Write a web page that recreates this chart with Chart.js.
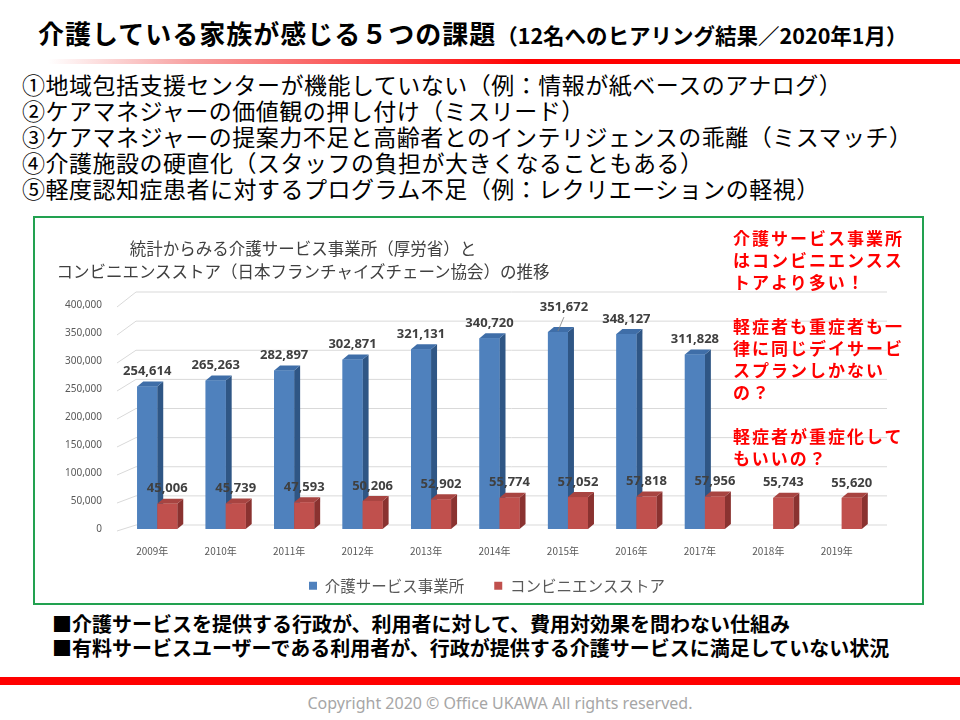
<!DOCTYPE html>
<html lang="ja">
<head>
<meta charset="utf-8">
<script src="https://cdn.jsdelivr.net/npm/chart.js@4"></script>
<style>
  body { margin: 0; background: #fff; }
  #slide { position: relative; width: 960px; height: 720px; overflow: hidden; font-family: 'Noto Sans CJK JP', 'Noto Sans', sans-serif; }
  .abs { position: absolute; white-space: nowrap; }
  #title { left: 38px; top: 16px; font-size: 26px; font-weight: bold; letter-spacing: 1px; color: #000; line-height: 34px; }
  #title small { font-size: 21.5px; letter-spacing: 0; }
  #rule { left: 0; top: 59px; width: 960px; height: 5px; background: linear-gradient(to right, #fff 5%, #f7a0a0 20%, #ff0000 55%, #ff0000 100%); }
  #points { left: 22px; top: 71px; font-size: 23px; line-height: 26px; color: #000; letter-spacing: 0.5px; }
  #box { left: 33px; top: 216px; width: 887px; height: 385px; border: 2px solid #22a150; }
  #chartWrap { left: 36px; top: 218px; }
  #ctitle { left: 33px; top: 237px; width: 540px; text-align: center; font-size: 16.5px; line-height: 23px; color: #404040; }
  #note { left: 733px; top: 227px; font-size: 17px; font-weight: bold; line-height: 22px; color: #ff0000; letter-spacing: 2px; }
  #bottom { left: 52px; top: 612px; font-size: 20px; font-weight: bold; line-height: 24px; color: #000; }
  #bar2 { left: 0; top: 677px; width: 960px; height: 8px; background: #ff0000; }
  #copy { left: 40px; top: 692px; width: 920px; text-align: center; font-family: 'Noto Sans', sans-serif; font-size: 16px; color: #a6a6a6; }
</style>
</head>
<body>
<div id="slide">
  <div id="title" class="abs">介護している家族が感じる５つの課題<small>（12名へのヒアリング結果／2020年1月）</small></div>
  <div id="rule" class="abs"></div>
  <div id="points" class="abs">①地域包括支援センターが機能していない（例：情報が紙ベースのアナログ）<br>②ケアマネジャーの価値観の押し付け（ミスリード）<br>③ケアマネジャーの提案力不足と高齢者とのインテリジェンスの乖離（ミスマッチ）<br>④介護施設の硬直化（スタッフの負担が大きくなることもある）<br>⑤軽度認知症患者に対するプログラム不足（例：レクリエーションの軽視）</div>
  <div id="box" class="abs"></div>
  <div id="chartWrap" class="abs"><canvas id="chart" width="886" height="385"></canvas></div>
  <div id="ctitle" class="abs">統計からみる介護サービス事業所（厚労省）と<br>コンビニエンスストア（日本フランチャイズチェーン協会）の推移</div>
  <div id="note" class="abs">介護サービス事業所<br>はコンビニエンスス<br>トアより多い！<br><br>軽症者も重症者も一<br>律に同じデイサービ<br>スプランしかない<br>の？<br><br>軽症者が重症化して<br>もいいの？</div>
  <div id="bottom" class="abs">■介護サービスを提供する行政が、利用者に対して、費用対効果を問わない仕組み<br>■有料サービスユーザーである利用者が、行政が提供する介護サービスに満足していない状況</div>
  <div id="bar2" class="abs"></div>
  <div id="copy" class="abs">Copyright 2020 © Office UKAWA All rights reserved.</div>
</div>
<script>
// data
const years = ['2009年', '2010年', '2011年', '2012年', '2013年', '2014年', '2015年', '2016年', '2017年', '2018年', '2019年'];
const careOffices = [254614, 265263, 282897, 302871, 321131, 340720, 351672, 348127, 311828, null, null];
const convStores = [45006, 45739, 47593, 50206, 52902, 55774, 57052, 57818, 57956, 55743, 55620];

const sideColors = ['#2f5685', '#8a3230'];
const topColors = ['#3f6ea8', '#a84441'];
const fmt = v => v.toLocaleString('en-US');

// back wall gridlines with a little perspective slant
const wallGrid = {
  id: 'wallGrid',
  beforeDatasetsDraw(chart) {
    const { ctx, chartArea: a, scales: { y } } = chart;
    const y0 = y.getPixelForValue(0), yTop = y.getPixelForValue(y.max);
    ctx.save();
    ctx.strokeStyle = '#d9d9d9';
    ctx.lineWidth = 1;
    y.ticks.forEach(t => {
      const py = y.getPixelForValue(t.value);
      const k = 4 + 9 * (y0 - py) / (y0 - yTop);
      ctx.beginPath();
      ctx.moveTo(a.left - 6, py + 2);
      ctx.lineTo(a.left + 13, py - k);
      ctx.lineTo(a.right + 11, py - k);
      ctx.stroke();
    });
    ctx.restore();
  }
};

// nudge the legend so it sits where the original one does
const legendNudge = {
  id: 'legendNudge',
  afterLayout(chart) {
    const lg = chart.legend;
    lg.left += 27; lg.right += 27;
    lg.top -= 25; lg.bottom -= 25;
  }
};

// fake 3D faces + value labels
const depthBars = {
  id: 'depthBars',
  afterDatasetsDraw(chart) {
    const ctx = chart.ctx;
    const dx = 6, dy = 5;
    chart.data.datasets.forEach((ds, i) => {
      chart.getDatasetMeta(i).data.forEach((bar, j) => {
        if (ds.data[j] == null) return;
        const p = bar.getProps(['x', 'y', 'base', 'width']);
        const l = p.x - p.width / 2, r = p.x + p.width / 2;
        ctx.fillStyle = sideColors[i];
        ctx.beginPath();
        ctx.moveTo(r, p.y); ctx.lineTo(r + dx, p.y - dy); ctx.lineTo(r + dx, p.base - dy); ctx.lineTo(r, p.base);
        ctx.closePath(); ctx.fill();
        ctx.fillStyle = topColors[i];
        ctx.beginPath();
        ctx.moveTo(l, p.y); ctx.lineTo(l + dx, p.y - dy); ctx.lineTo(r + dx, p.y - dy); ctx.lineTo(r, p.y);
        ctx.closePath(); ctx.fill();
        bar.draw(ctx);
      });
    });
    ctx.save();
    ctx.font = 'bold 13px "Noto Sans", sans-serif';
    ctx.fillStyle = '#404040';
    ctx.textAlign = 'center';
    ctx.textBaseline = 'middle';
    chart.data.datasets.forEach((ds, i) => {
      const top = Math.max(...ds.data.filter(v => v != null));
      chart.getDatasetMeta(i).data.forEach((bar, j) => {
        const v = ds.data[j];
        if (v == null) return;
        if (i === 0 && v === top) {
          ctx.fillText(fmt(v), bar.x + 6, bar.y - 25);
          ctx.strokeStyle = '#808080';
          ctx.lineWidth = 0.8;
          ctx.beginPath(); ctx.moveTo(bar.x + 6, bar.y - 15); ctx.lineTo(bar.x, bar.y - 1); ctx.stroke();
        } else {
          ctx.fillText(fmt(v), bar.x, bar.y - 15);
        }
      });
    });
    ctx.restore();
  }
};

new Chart(document.getElementById('chart'), {
  type: 'bar',
  data: {
    labels: years,
    datasets: [
      { label: '介護サービス事業所', data: careOffices, backgroundColor: '#4f81bd', categoryPercentage: 0.585, barPercentage: 1 },
      { label: 'コンビニエンスストア', data: convStores, backgroundColor: '#c0504d', categoryPercentage: 0.585, barPercentage: 1 }
    ]
  },
  options: {
    responsive: false,
    animation: false,
    layout: { padding: { left: 8, right: 46, top: 87, bottom: -20 } },
    scales: {
      x: {
        grid: { display: false, drawTicks: false },
        border: { display: false },
        ticks: { color: '#595959', font: { size: 10, family: '"Noto Sans CJK JP", sans-serif' }, padding: 16, labelOffset: -5 }
      },
      y: {
        min: 0, max: 400000,
        grid: { display: false, drawTicks: false },
        border: { display: false },
        ticks: { stepSize: 50000, color: '#595959', font: { size: 10, family: '"Noto Sans", sans-serif' }, padding: 21, callback: v => fmt(v) }
      }
    },
    plugins: {
      legend: {
        position: 'bottom',
        maxHeight: 50,
        labels: { boxWidth: 8, boxHeight: 8, padding: 30, color: '#595959', font: { size: 15.5, family: '"Noto Sans CJK JP", sans-serif' } }
      },
      tooltip: { enabled: false }
    }
  },
  plugins: [wallGrid, legendNudge, depthBars]
});
</script>
</body>
</html>
